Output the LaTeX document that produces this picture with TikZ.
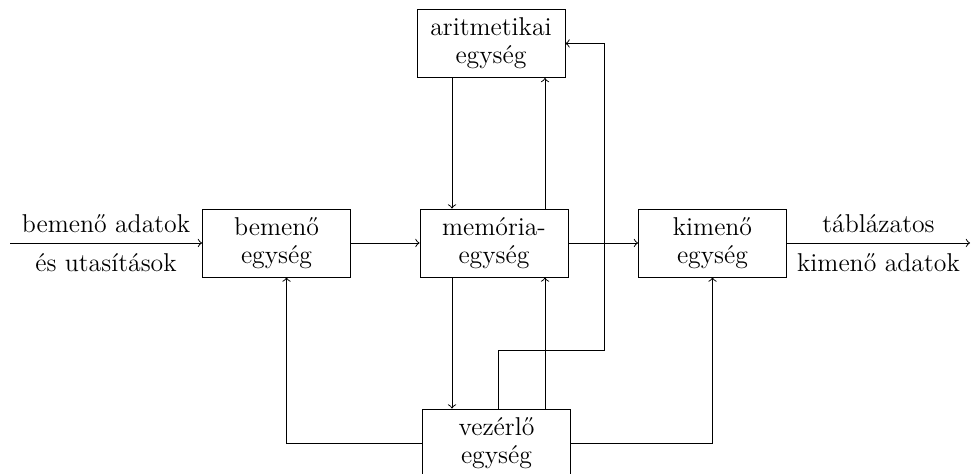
\documentclass[tikz,border=0pt]{standalone}
\usepackage{fontspec}
\usetikzlibrary{calc}
\tikzset{
  unit/.style={draw, thin, minimum width=2.22cm, minimum height=1.02cm,
    inner sep=0pt, align=center},
  flow/.style={thin, ->},
}
\begin{document}
\begin{tikzpicture}[x=0.015cm,y=-0.015cm,font=\fontsize{11}{12}\selectfont]
    \useasboundingbox (0,0) rectangle (975,474);
    % units
    \node[unit] (arit) at (491,43.5) {aritmetikai\\egység};
    \node[unit] (bem) at (276.5,243) {bemenő\\egység};
    \node[unit] (mem) at (494,243) {memória-\\egység};
    \node[unit] (kim) at (712.5,243) {kimenő\\egység};
    \node[unit] (vez) at (496.5,443) {vezérlő\\egység};
    % helper points
    \coordinate (dn) at (452,0);
    \coordinate (up) at (545,0);
    \coordinate (tap) at (498,0);
    \coordinate (bend) at (604,350);
    \coordinate (in) at (10,0);
    \coordinate (out) at (970,0);
    % data path
    \draw[flow] (in |- bem.west) -- (bem.west)
        node[midway,above=1pt] (inA) {bemenő adatok}
        node[midway,below=1pt] (inB) {és utasítások};
    \draw[flow] (bem) -- (mem);
    \draw[flow] (mem) -- (kim);
    \draw[flow] (kim.east) -- (out |- kim.east)
        node[midway,above=1pt] (outA) {táblázatos}
        node[midway,below=1pt] (outB) {kimenő adatok};
    \draw[flow] (arit.south -| dn) -- (mem.north -| dn);
    \draw[flow] (mem.north -| up) -- (arit.south -| up);
    \draw[flow] (mem.south -| dn) -- (vez.north -| dn);
    \draw[flow] (vez.north -| up) -- (mem.south -| up);
    % control lines
    \draw[flow] (vez.north -| tap) |- (bend) |- (arit.east);
    \draw[flow] (vez.west) -| ($(bem.south)+(10,0)$);
    \draw[flow] (vez.east) -| (kim.south);
\end{tikzpicture}
\end{document}
